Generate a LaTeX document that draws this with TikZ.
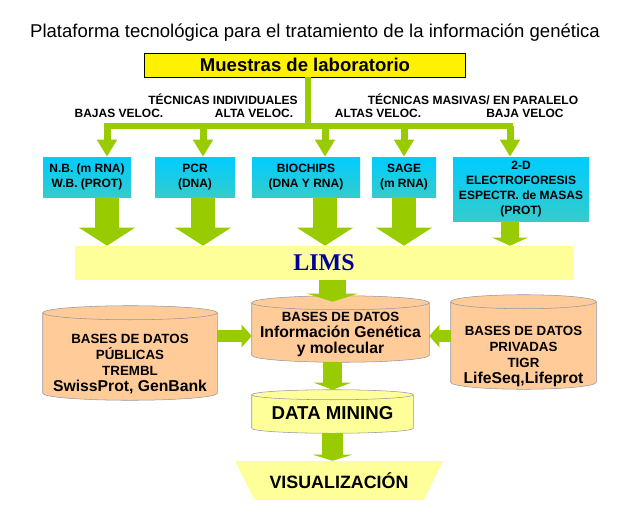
\documentclass[tikz,border=0pt]{standalone}
\usepackage{fontspec}
\setmainfont{Liberation Sans}
\newfontfamily\limsfont{Liberation Serif}
\usepackage{xcolor}
\usetikzlibrary{shapes,arrows.meta,positioning,calc}

\definecolor{verde}{RGB}{153,204,0}
\definecolor{cianA}{RGB}{0,204,255}
\definecolor{cianB}{RGB}{51,204,204}
\definecolor{melocoton}{RGB}{255,204,153}
\definecolor{crema}{RGB}{255,255,153}
\definecolor{azulims}{RGB}{0,0,153}
\definecolor{borde}{RGB}{150,150,165}

\tikzset{
  caja/.style={inner sep=0pt, align=center, top color=cianA, bottom color=cianB,
    font=\bfseries\fontsize{9}{11.25}\selectfont},
  etiqueta/.style={font=\bfseries\fontsize{9}{11}\selectfont, inner sep=0pt},
  zona/.style={inner sep=0pt},
  texto/.style={align=center, inner sep=0pt, font=\bfseries},
  rama/.style={draw=verde, line width=4.5pt},
  flechita/.style={draw=verde, line width=5.25pt, -{Triangle[length=12.75pt,width=14.25pt]}},
  flechagrande/.style={draw=verde, line width=18pt, -{Triangle[length=13.5pt,width=41.25pt]}}
}

% cilindro sobre el rectangulo de un nodo: #1 nodo, #2 radio de la tapa, #3 relleno
\newcommand{\basedatos}[3]{%
  \path[draw=borde, fill=#3] let \p1=($(#1.east)-(#1.west)$) in
    ($(#1.north west)+(0pt,-#2)$) -- ($(#1.south west)+(0pt,#2)$)
    arc[start angle=180, end angle=360, x radius=0.5*\x1, y radius=#2]
    -- ($(#1.north east)+(0pt,-#2)$)
    arc[start angle=0, end angle=180, x radius=0.5*\x1, y radius=#2] -- cycle;
  \path[draw=borde] let \p1=($(#1.east)-(#1.west)$) in
    ($(#1.north west)+(0pt,-#2)$)
    arc[start angle=180, end angle=360, x radius=0.5*\x1, y radius=#2];
}

\begin{document}
\begin{tikzpicture}[x=0.75pt,y=-0.75pt]
  \useasboundingbox (0,0) rectangle (621,521);

  \node (titulo) at (315,33) {\fontsize{13.9}{16}\selectfont Plataforma tecnológica para el tratamiento de la información genética};
  \node[draw, fill=yellow, minimum width=240.75pt, minimum height=18pt, inner sep=0pt,
    font=\bfseries\fontsize{13.9}{15}\selectfont] (muestras) at (305,65) {Muestras de laboratorio};

  % rotulos de las tecnicas
  \node[etiqueta] (indiv) at (223,99) {TÉCNICAS INDIVIDUALES};
  \node[etiqueta] (bajas) at (119,113) {BAJAS VELOC.};
  \node[etiqueta] (alta) at (254,113) {ALTA VELOC.};
  \node[etiqueta] (masivas) at (473,99) {TÉCNICAS MASIVAS/ EN PARALELO};
  \node[etiqueta] (altas) at (378,113) {ALTAS VELOC.};
  \node[etiqueta] (baja) at (525,113) {BAJA VELOC};

  % cajas
  \node[caja, minimum width=66pt, minimum height=30pt] (nb) at (87,177) {N.B. (m RNA)\\W.B. (PROT)};
  \node[caja, minimum width=60pt, minimum height=30pt] (pcr) at (195,177) {PCR\\(DNA)};
  \node[caja, minimum width=81pt, minimum height=30pt] (biochips) at (306,177) {BIOCHIPS\\(DNA Y RNA)};
  \node[caja, minimum width=48pt, minimum height=30pt] (sage) at (404,177) {SAGE\\(m RNA)};
  \node[caja, minimum width=102pt, minimum height=48pt] (electro) at (521,189) {2-D\\ELECTROFORESIS\\ESPECTR. de MASAS\\(PROT)};

  % arbol
  \coordinate (c1) at (107,126);
  \coordinate (c2) at (203,126);
  \coordinate (c3) at (325,126);
  \coordinate (c4) at (404,126);
  \coordinate (c5) at (510,126);
  \draw[rama] (muestras.south -| 308,0) -- (308,126);
  \draw[rama, line cap=rect] (c1) -- (c5);
  \foreach \c/\b in {c1/nb, c2/pcr, c3/biochips, c4/sage, c5/electro}
    \draw[flechita] (\c) -- (\c |- \b.north);

  % LIMS
  \node[fill=crema, minimum width=373.5pt, minimum height=25.5pt, inner sep=0pt,
    font=\limsfont\bfseries\fontsize{18}{20}\selectfont, text=azulims] (lims) at (324,263) {LIMS};

  \foreach \c/\b in {c1/nb, c2/pcr, c3/biochips, c4/sage}
    \draw[flechagrande] (\b.south -| \c) -- (lims.north -| \c);
  \draw[draw=verde, line width=13.5pt, -{Triangle[length=6pt,width=26.25pt]}] (electro.south -| c5) -- (lims.north -| c5);

  % bases de datos
  \node[zona, minimum width=132.75pt, minimum height=49.5pt] (genetica) at (340.5,329) {};
  \node[zona, minimum width=130.5pt, minimum height=70.5pt] (publicas) at (130,353) {};
  \node[zona, minimum width=108.75pt, minimum height=70.5pt] (privadas) at (523.5,342) {};
  \node[zona, minimum width=120.75pt, minimum height=32.25pt] (mining) at (332.5,411.5) {};
  \basedatos{genetica}{5.25pt}{melocoton}
  \basedatos{publicas}{5.25pt}{melocoton}
  \basedatos{privadas}{5.25pt}{melocoton}
  \basedatos{mining}{3.75pt}{crema}
  \node[trapezium, shape border rotate=180, trapezium left angle=45, trapezium right angle=45,
    trapezium stretches=true, fill=crema, minimum width=156pt, minimum height=29.25pt, inner sep=0pt,
    font=\bfseries\fontsize{13.4}{15}\selectfont] (visual) at (339,480.5) {VISUALIZACIÓN};

  \node[texto] (genetica-txt) at (340.5,334)
    {{\fontsize{10}{13}\selectfont BASES DE DATOS}\\{\fontsize{11.8}{13}\selectfont Información Genética}\\{\fontsize{11.8}{13}\selectfont y molecular}};
  \node[texto] (publicas-txt) at (130,364)
    {\fontsize{10}{12.75}\selectfont BASES DE DATOS\\\fontsize{10}{12.75}\selectfont PÚBLICAS\\\fontsize{10}{12.75}\selectfont TREMBL\\\fontsize{11.8}{12.75}\selectfont SwissProt, GenBank};
  \node[texto] (privadas-txt) at (523.5,356)
    {\fontsize{10}{12}\selectfont BASES DE DATOS\\\fontsize{10}{12}\selectfont PRIVADAS\\\fontsize{10}{12}\selectfont TIGR\\\fontsize{11.8}{12}\selectfont LifeSeq,Lifeprot};
  \node[texto, font=\bfseries\fontsize{14}{16}\selectfont] (mining-txt) at (332.5,413) {DATA MINING};

  \draw[draw=verde, line width=20.25pt, -{Triangle[length=6pt,width=37.5pt]}] (lims.south -| mining) -- ($(genetica.north -| mining)+(0pt,-4.5pt)$);
  \draw[draw=verde, line width=9pt, -{Triangle[length=7.5pt,width=16.5pt]}] (publicas.east |- 0,336) -- (genetica.west |- 0,336);
  \draw[draw=verde, line width=9pt, -{Triangle[length=7.5pt,width=16.5pt]}] (privadas.west |- 0,336) -- (genetica.east |- 0,336);
  \draw[draw=verde, line width=14.25pt, -{Triangle[length=5.25pt,width=27.75pt]}] (genetica.south -| mining) -- (mining.north);
  \draw[draw=verde, line width=15.75pt, -{Triangle[length=4.5pt,width=29.25pt]}] (mining.south) -- (visual.north -| mining);
\end{tikzpicture}
\end{document}
